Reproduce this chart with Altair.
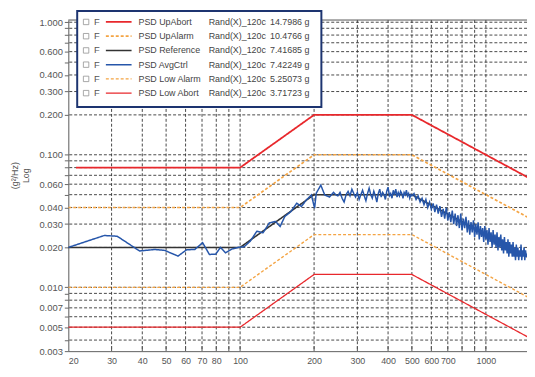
import altair as alt
import pandas as pd

# ---------------- data ----------------
names = ["PSD UpAbort", "PSD UpAlarm", "PSD Reference", "PSD AvgCtrl", "PSD Low Alarm", "PSD Low Abort"]
rand_labels = ["Rand(X)_120c"] * 6
rms_labels = ["14.7986 g", "10.4766 g", "7.41685 g", "7.42249 g", "5.25073 g", "3.71723 g"]
series_colors = ["#e8282c", "#f4a443", "#333333", "#2656aa", "#f4a443", "#e8282c"]
series_dash = [[1, 0], [3, 2], [1, 0], [1, 0], [3, 2], [1, 0]]
series_width = [1.8, 1.3, 1.7, 1.3, 1.3, 1.8]

prof_freq = [20, 100, 200, 500, 2000]
up_abort_freq = [21.5, 100, 200, 500, 2000]
up_abort = [0.08, 0.08, 0.2, 0.2, 0.05]
up_alarm = [0.04, 0.04, 0.1, 0.1, 0.025]
reference = [0.02, 0.02, 0.05, 0.05, 0.0125]
low_alarm = [0.01, 0.01, 0.025, 0.025, 0.00625]
low_abort = [0.005, 0.005, 0.0125, 0.0125, 0.003125]

avg_freq_low = [20, 28, 31.6, 39, 45, 49.3, 55.9, 60.6, 65.4, 70.4, 75, 79.6, 83.2, 87.3, 93,
                98, 103.7, 110, 117, 124, 131.5, 139.4, 145.5, 152, 161, 170, 177.6, 186, 195,
                201, 204, 213, 221, 231, 240, 245]
avg_val_low = [0.0200, 0.0246, 0.0243, 0.0188, 0.0193, 0.0190, 0.0172, 0.0192, 0.0193, 0.0217,
               0.0177, 0.0178, 0.0200, 0.0182, 0.0195, 0.0200, 0.0202, 0.0223, 0.0265, 0.0258,
               0.0306, 0.0314, 0.0288, 0.0342, 0.0373, 0.0431, 0.0407, 0.0456, 0.0497, 0.0395,
               0.0512, 0.0590, 0.0497, 0.0480, 0.0520, 0.0500]
avg_freq_mid = list(range(250, 505, 5))
avg_val_mid = [0.049, 0.052, 0.047, 0.044, 0.050, 0.053, 0.049, 0.055, 0.051, 0.048,
               0.052, 0.046, 0.050, 0.054, 0.049, 0.045, 0.051, 0.056, 0.050, 0.047,
               0.053, 0.049, 0.044, 0.051, 0.055, 0.048, 0.052, 0.050, 0.046, 0.053,
               0.057, 0.049, 0.051, 0.047, 0.054, 0.050, 0.055, 0.048, 0.052, 0.049,
               0.053, 0.051, 0.047, 0.052, 0.050, 0.054, 0.049, 0.051, 0.047, 0.050, 0.049]
avg_freq_high = list(range(510, 1480, 10))
avg_val_high = [0.051, 0.046, 0.049, 0.044, 0.047, 0.042, 0.046, 0.040, 0.044, 0.039,
                0.043, 0.037, 0.042, 0.036, 0.041, 0.034, 0.039, 0.033, 0.040, 0.032,
                0.037, 0.031, 0.038, 0.030, 0.036, 0.029, 0.035, 0.028, 0.036, 0.027,
                0.033, 0.028, 0.034, 0.026, 0.032, 0.025, 0.031, 0.026, 0.032, 0.024,
                0.030, 0.025, 0.031, 0.023, 0.029, 0.024, 0.028, 0.022, 0.029, 0.023,
                0.027, 0.021, 0.028, 0.022, 0.026, 0.020, 0.027, 0.021, 0.025, 0.020,
                0.026, 0.019, 0.024, 0.020, 0.025, 0.019, 0.023, 0.018, 0.024, 0.019,
                0.022, 0.018, 0.023, 0.017, 0.022, 0.018, 0.021, 0.017, 0.022, 0.017,
                0.020, 0.016, 0.021, 0.017, 0.020, 0.016, 0.019, 0.017, 0.021, 0.016,
                0.019, 0.017, 0.020, 0.016, 0.019, 0.017, 0.018]

x_grid = [30, 40, 50, 60, 70, 80, 90, 100, 200, 300, 400, 500, 600, 700, 800, 900, 1000]
x_ticks = [20] + x_grid
y_grid = [0.004, 0.005, 0.006, 0.007, 0.008, 0.009,
          0.01, 0.02, 0.03, 0.04, 0.05, 0.06, 0.07, 0.08, 0.09,
          0.1, 0.2, 0.3, 0.4, 0.5, 0.6, 0.7, 0.8, 0.9, 1.0]
y_ticks = [0.0033] + y_grid
y_labels = ["0.003", "0.005", "0.007", "0.010", "0.020", "0.030", "0.040", "0.060",
            "0.100", "0.200", "0.300", "0.400", "0.600", "1.000"]

# ---------------- tables ----------------
prof_rows = []
for name, fr, vals in [(names[0], up_abort_freq, up_abort), (names[1], prof_freq, up_alarm),
                       (names[2], prof_freq, reference), (names[4], prof_freq, low_alarm),
                       (names[5], prof_freq, low_abort)]:
    for i, (f, v) in enumerate(zip(fr, vals)):
        prof_rows.append({"series": name, "f": f, "v": v, "i": i})
prof_df = pd.DataFrame(prof_rows)

avg_df = pd.DataFrame({"f": avg_freq_low + avg_freq_mid + avg_freq_high,
                       "v": avg_val_low + avg_val_mid + avg_val_high})
avg_df["series"] = names[3]
avg_df["i"] = range(len(avg_df))

xgrid_df = pd.DataFrame({"f": x_grid})
ygrid_df = pd.DataFrame({"v": y_grid})
leg_df = pd.DataFrame({"series": names, "rand": rand_labels, "rms": rms_labels,
                       "row": list(range(6)), "chk": ["F"] * 6})

W, H = 464, 335
FONT = "Liberation Sans"
GRAY = "#555555"

xscale = alt.Scale(type="log", domain=[20, 1470], nice=False)
yscale = alt.Scale(type="log", domain=[0.0033, 1.04], nice=False)
xaxis = alt.Axis(values=x_ticks, ticks=False, grid=False, domainColor="#666666",
                 labelExpr="(datum.value == 90 || datum.value == 800 || datum.value == 900) ? '' : format(datum.value, 'd')",
                 labelFontSize=9, labelColor=GRAY, labelPadding=6, labelFont=FONT)
y_label_js = "[" + ",".join("'%s'" % s for s in y_labels) + "]"
yaxis = alt.Axis(values=y_ticks, grid=False, domainColor="#666666", tickColor="#666666", tickSize=4,
                 labelExpr="indexof(%s, format(datum.value, '.3f')) >= 0 ? format(datum.value, '.3f') : ''" % y_label_js,
                 labelFontSize=9.5, labelColor=GRAY, labelPadding=2, labelFont=FONT,
                 title=["(g²/Hz)", "Log"], titleFontSize=9, titleFontWeight="normal", titleColor=GRAY,
                 titleFont=FONT, titleX=-49, titleY=157, titleAngle=270, titleLineHeight=11)

xenc = alt.X("f:Q", scale=xscale, axis=xaxis, title=None)
yenc = alt.Y("v:Q", scale=yscale, axis=yaxis)

color_enc = alt.Color("series:N", scale=alt.Scale(domain=names, range=series_colors), legend=None)
dash_enc = alt.StrokeDash("series:N", scale=alt.Scale(domain=names, range=series_dash), legend=None)
width_enc = alt.StrokeWidth("series:N", scale=alt.Scale(domain=names, range=series_width), legend=None)

vgrid = alt.Chart(xgrid_df).mark_rule(color="#333333", strokeDash=[3, 2], strokeWidth=0.9).encode(x=xenc)
hgrid = alt.Chart(ygrid_df).mark_rule(color="#333333", strokeDash=[3, 2], strokeWidth=0.9).encode(y=yenc)
xticks = alt.Chart(xgrid_df).mark_rule(color="#555555", strokeWidth=1).encode(
    x=xenc, y=alt.value(H), y2=alt.value(H - 5))
topline = alt.Chart(xgrid_df.head(1)).mark_rule(color="#666666", strokeWidth=1).encode(
    x=alt.value(0), x2=alt.value(W), y=alt.value(0))

prof = alt.Chart(prof_df).mark_line(clip=True).encode(
    x=xenc, y=yenc, color=color_enc, strokeDash=dash_enc, strokeWidth=width_enc,
    detail="series:N", order="i:Q")
avg = alt.Chart(avg_df).mark_line(clip=True).encode(
    x=xenc, y=yenc, color=color_enc, strokeDash=dash_enc, strokeWidth=width_enc, order="i:Q")

main = alt.layer(vgrid, hgrid, xticks, topline, prof, avg)

# ---------------- legend box ----------------
rowy = alt.Y("row:Q", scale=alt.Scale(domain=[0, 5], range=[2, 74]), axis=None)
box = alt.Chart(leg_df.head(1)).mark_rect(fill="white", stroke="#1d3470", strokeWidth=2).encode(
    x=alt.value(9), x2=alt.value(256), y=alt.value(-9), y2=alt.value(88))
chk = alt.Chart(leg_df).mark_point(shape="square", filled=False, size=30, color="#666666",
                                   strokeWidth=0.8).encode(x=alt.value(18), y=rowy)
ftxt = alt.Chart(leg_df).mark_text(align="left", baseline="middle", font=FONT, fontSize=9.5,
                                   color=GRAY).encode(x=alt.value(26), y=rowy, text="chk:N")
sym = alt.Chart(leg_df).mark_rule().encode(
    x=alt.value(38), x2=alt.value(64), y=rowy, color=color_enc, strokeDash=dash_enc,
    strokeWidth=width_enc)
ntxt = alt.Chart(leg_df).mark_text(align="left", baseline="middle", font=FONT, fontSize=9,
                                   color="#444444").encode(x=alt.value(71), y=rowy, text="series:N")
rtxt = alt.Chart(leg_df).mark_text(align="left", baseline="middle", font=FONT, fontSize=9,
                                   color="#444444").encode(x=alt.value(142), y=rowy, text="rand:N")
vtxt = alt.Chart(leg_df).mark_text(align="left", baseline="middle", font=FONT, fontSize=9,
                                   color="#444444").encode(x=alt.value(204), y=rowy, text="rms:N")
legend = alt.layer(box, chk, ftxt, sym, ntxt, rtxt, vtxt)

chart = alt.layer(main, legend).resolve_scale(y="independent").properties(
    width=W, height=H,
    padding={"left": 61, "top": 10, "right": 0, "bottom": 20},
    autosize=alt.AutoSizeParams(type="none"),
).configure_view(stroke=None).configure(background="white")

chart.save("out.html", embed_options={"renderer": "svg", "actions": False})
